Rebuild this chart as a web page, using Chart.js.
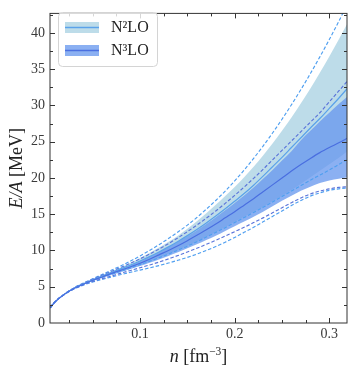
<!DOCTYPE html>
<html>
<head>
<meta charset="utf-8">
<script src="https://cdn.jsdelivr.net/npm/chart.js@4.4.1/dist/chart.umd.min.js"></script>
<style>
  html, body { margin: 0; padding: 0; background: #fff; }
  #wrap { position: relative; width: 348px; height: 367px; }
</style>
</head>
<body>
<div id="wrap"><canvas id="chart" width="348" height="367"></canvas></div>
<script>
// density grid [fm^-3]
const xs = [0.005, 0.01, 0.02, 0.03, 0.04, 0.05, 0.06, 0.07, 0.08, 0.09, 0.10, 0.11, 0.12, 0.13, 0.14, 0.15, 0.16,
            0.17, 0.18, 0.19, 0.20, 0.21, 0.22, 0.23, 0.24, 0.25, 0.26, 0.27, 0.28, 0.29, 0.30, 0.31, 0.32];

// N2LO band + central line
const n2Lo  = [2.1, 2.9, 3.96, 4.76, 5.37, 5.87, 6.33, 6.77, 7.2, 7.65, 8.1, 8.55, 9.05, 9.55, 10.1, 10.65, 11.25,
               11.9, 12.55, 13.25, 13.95, 14.65, 15.35, 16.05, 16.8, 17.55, 18.35, 19.2, 20.1, 21.0, 21.9, 22.8, 23.8];
const n2Hi  = [2.1, 2.9, 3.98, 4.82, 5.46, 6.05, 6.6, 7.15, 7.7, 8.3, 8.95, 9.65, 10.4, 11.2, 12.05, 13.0, 14.05,
               15.15, 16.3, 17.5, 18.75, 20.1, 21.55, 23.1, 24.75, 26.5, 28.35, 30.3, 32.35, 34.5, 36.75, 39.1, 41.5];
const n2Mid = [2.1, 2.9, 3.97, 4.8, 5.42, 5.97, 6.48, 7.0, 7.5, 8.0, 8.55, 9.15, 9.8, 10.5, 11.25, 12.05, 12.9,
               13.8, 14.75, 15.75, 16.8, 17.85, 19.0, 20.25, 21.55, 22.85, 24.2, 25.55, 26.9, 28.2, 29.6, 31.0, 32.5];

// N3LO band + central line
const n3Lo  = [2.1, 2.9, 3.95, 4.72, 5.3, 5.8, 6.22, 6.65, 7.05, 7.45, 7.85, 8.3, 8.75, 9.25, 9.75, 10.3, 10.85,
               11.45, 12.05, 12.7, 13.35, 14.0, 14.65, 15.35, 16.1, 16.85, 17.55, 18.25, 18.8, 19.3, 19.65, 19.9, 20.1];
const n3Hi  = [2.1, 2.9, 3.97, 4.8, 5.42, 5.95, 6.45, 6.95, 7.45, 7.95, 8.5, 9.1, 9.75, 10.45, 11.2, 11.95, 12.75,
               13.65, 14.6, 15.55, 16.55, 17.6, 18.7, 19.9, 21.1, 22.4, 23.7, 25.2, 26.5, 27.8, 29.0, 30.2, 31.3];
const n3Mid = [2.1, 2.9, 3.95, 4.75, 5.35, 5.9, 6.35, 6.85, 7.3, 7.75, 8.25, 8.8, 9.4, 10.0, 10.65, 11.35, 12.1,
               12.85, 13.65, 14.5, 15.35, 16.25, 17.15, 18.1, 19.05, 20.0, 20.95, 21.85, 22.7, 23.5, 24.2, 24.85, 25.55];

// dashed curves
const n2DashHi  = [2.1, 2.9, 3.98, 4.83, 5.5, 6.1, 6.7, 7.3, 7.9, 8.55, 9.25, 10.0, 10.8, 11.65, 12.55, 13.5, 14.55,
                   15.7, 16.9, 18.2, 19.6, 21.1, 22.7, 24.4, 26.2, 28.1, 30.1, 32.2, 34.4, 36.7, 39.1, 41.6, 44.2];
const n2DashMid = [2.1, 2.9, 3.96, 4.75, 5.35, 5.85, 6.3, 6.72, 7.15, 7.6, 8.05, 8.5, 9.0, 9.5, 10.05, 10.6, 11.2,
                   11.85, 12.5, 13.15, 13.85, 14.55, 15.25, 15.95, 16.7, 17.45, 18.2, 18.95, 19.7, 20.4, 21.1, 21.85, 22.6];
const n2DashLo  = [2.1, 2.9, 3.93, 4.68, 5.22, 5.65, 6.02, 6.36, 6.68, 7.0, 7.3, 7.6, 7.92, 8.27, 8.65, 9.05, 9.5,
                   10.0, 10.55, 11.15, 11.8, 12.5, 13.2, 13.95, 14.7, 15.45, 16.2, 16.9, 17.5, 17.95, 18.3, 18.5, 18.65];
const n3DashHi  = [2.1, 2.9, 3.98, 4.82, 5.47, 6.05, 6.6, 7.15, 7.7, 8.25, 8.85, 9.5, 10.2, 10.95, 11.75, 12.6, 13.5,
                   14.45, 15.45, 16.5, 17.6, 18.75, 19.95, 21.2, 22.5, 23.8, 25.1, 26.4, 27.7, 29.0, 30.5, 32.0, 33.5];
const n3DashLo  = [2.1, 2.9, 3.94, 4.7, 5.27, 5.72, 6.12, 6.5, 6.88, 7.25, 7.62, 8.0, 8.4, 8.85, 9.3, 9.8, 10.3,
                   10.85, 11.4, 12.0, 12.6, 13.2, 13.85, 14.5, 15.2, 15.9, 16.6, 17.25, 17.8, 18.2, 18.5, 18.7, 18.8];

const xTicks = [0.1, 0.2, 0.3];
const yTicks = [0, 5, 10, 15, 20, 25, 30, 35, 40];
const seriesNames = ['N\u00b2LO', 'N\u00b3LO'];

const SERIF = '"Liberation Serif", "DejaVu Serif", serif';
const n2Fill = 'rgba(173, 211, 228, 0.8)';
const n3Fill = 'rgba(100, 149, 237, 0.75)';
const n2Line = '#5aa2ea';
const n3Line = '#4a6fe0';
const n2Dash = '#4f9ff0';
const n3Dash = '#5a74da';

const pts = arr => arr.map((y, i) => ({ x: xs[i], y: y }));

function edge(data, order, fill, bg) {
  return { data: pts(data), order: order, fill: fill, backgroundColor: bg || 'transparent',
           borderColor: 'transparent', borderWidth: 0, pointRadius: 0 };
}
function curve(data, order, color, dashed) {
  return { data: pts(data), order: order, fill: false, borderColor: color,
           borderWidth: dashed ? 1.15 : 1.2, borderDash: dashed ? [3.5, 2] : [], pointRadius: 0 };
}

// inward ticks, frame, axis titles, legend
const decor = {
  id: 'decor',
  afterDraw(chart) {
    const { ctx, chartArea: a, scales } = chart;
    const sx = scales.x, sy = scales.y;
    ctx.save();
    ctx.strokeStyle = '#333';
    ctx.lineWidth = 1;
    ctx.beginPath();
    for (let v = 0.025; v < 0.32; v += 0.025) {
      const major = Math.abs(v * 10 - Math.round(v * 10)) < 1e-6;
      const len = major ? 5 : 3;
      const px = Math.round(sx.getPixelForValue(v)) + 0.5;
      ctx.moveTo(px, a.bottom); ctx.lineTo(px, a.bottom - len);
      ctx.moveTo(px, a.top); ctx.lineTo(px, a.top + len);
    }
    for (let v = 2.5; v < 42.7; v += 2.5) {
      const major = v % 5 === 0;
      const len = major ? 5 : 3;
      const py = Math.round(sy.getPixelForValue(v)) + 0.5;
      ctx.moveTo(a.left, py); ctx.lineTo(a.left + len, py);
      ctx.moveTo(a.right, py); ctx.lineTo(a.right - len, py);
    }
    ctx.stroke();
    ctx.strokeRect(a.left, a.top, a.right - a.left, a.bottom - a.top);

    // x title: n [fm^-3]
    ctx.fillStyle = '#222';
    ctx.textBaseline = 'alphabetic';
    const big = '18px ' + SERIF, ital = 'italic 18px ' + SERIF, small = '11.5px ' + SERIF;
    const parts = [[ital, 'n', 0], [big, ' [fm', 0], [small, '\u22123', -7], [big, ']', 0]];
    let w = 0;
    parts.forEach(p => { ctx.font = p[0]; w += ctx.measureText(p[1]).width; });
    let cx = (a.left + a.right) / 2 - w / 2;
    parts.forEach(p => { ctx.font = p[0]; ctx.textAlign = 'left'; ctx.fillText(p[1], cx, 362 + p[2]); cx += ctx.measureText(p[1]).width; });

    // y title: E/A [MeV]
    ctx.save();
    ctx.translate(22, (a.top + a.bottom) / 2);
    ctx.rotate(-Math.PI / 2);
    const yparts = [[ital, 'E/A'], [big, ' [MeV]']];
    w = 0;
    yparts.forEach(p => { ctx.font = p[0]; w += ctx.measureText(p[1]).width; });
    cx = -w / 2;
    yparts.forEach(p => { ctx.font = p[0]; ctx.fillText(p[1], cx, 0); cx += ctx.measureText(p[1]).width; });
    ctx.restore();

    // legend
    const lx = 58.5, ly = 12.5, lw = 99, lh = 54;
    ctx.beginPath();
    ctx.roundRect(lx, ly, lw, lh, 4);
    ctx.fillStyle = 'rgba(255,255,255,0.8)';
    ctx.fill();
    ctx.strokeStyle = '#d4d4d4';
    ctx.stroke();
    const entries = [[seriesNames[0], n2Fill, n2Line, 22], [seriesNames[1], n3Fill, n3Line, 45]];
    entries.forEach(e => {
      ctx.fillStyle = e[1];
      ctx.fillRect(65, e[3], 34, 11);
      ctx.strokeStyle = e[2];
      ctx.lineWidth = 1.5;
      ctx.beginPath(); ctx.moveTo(65, e[3] + 5.5); ctx.lineTo(99, e[3] + 5.5); ctx.stroke();
      ctx.fillStyle = '#222';
      ctx.font = '16px ' + SERIF;
      ctx.textBaseline = 'middle';
      ctx.fillText(e[0], 111, e[3] + 6);
    });
    ctx.restore();
  }
};

new Chart(document.getElementById('chart'), {
  type: 'line',
  data: {
    datasets: [
      edge(n2Lo, 20, false),
      edge(n2Hi, 19, 0, n2Fill),
      edge(n3Lo, 18, false),
      edge(n3Hi, 17, 2, n3Fill),
      curve(n2DashLo, 9, n2Dash, true),
      curve(n2DashMid, 9, n2Dash, true),
      curve(n2DashHi, 9, n2Dash, true),
      curve(n3DashLo, 8, n3Dash, true),
      curve(n3DashHi, 8, n3Dash, true),
      curve(n2Mid, 2, n2Line, false),
      curve(n3Mid, 1, n3Line, false)
    ]
  },
  options: {
    responsive: false,
    animation: false,
    layout: { padding: { left: 0, right: 1, top: 6, bottom: 0 } },
    plugins: { legend: { display: false }, tooltip: { enabled: false } },
    elements: { line: { cubicInterpolationMode: 'monotone' } },
    scales: {
      x: {
        type: 'linear', min: 0.0048, max: 0.3187,
        grid: { display: false, drawTicks: false }, border: { display: false },
        afterBuildTicks: s => { s.ticks = xTicks.map(v => ({ value: v })); },
        afterFit: s => { s.height = 44; },
        ticks: { padding: 3, color: '#3a3a3a', font: { family: SERIF, size: 14 }, maxRotation: 0,
                 callback: v => v.toFixed(1) }
      },
      y: {
        min: 0, max: 42.7,
        grid: { display: false, drawTicks: false }, border: { display: false },
        afterBuildTicks: s => { s.ticks = yTicks.map(v => ({ value: v })); },
        afterFit: s => { s.width = 50; },
        ticks: { padding: 5, color: '#3a3a3a', font: { family: SERIF, size: 14 }, callback: v => String(v) }
      }
    }
  },
  plugins: [decor]
});
</script>
</body>
</html>
